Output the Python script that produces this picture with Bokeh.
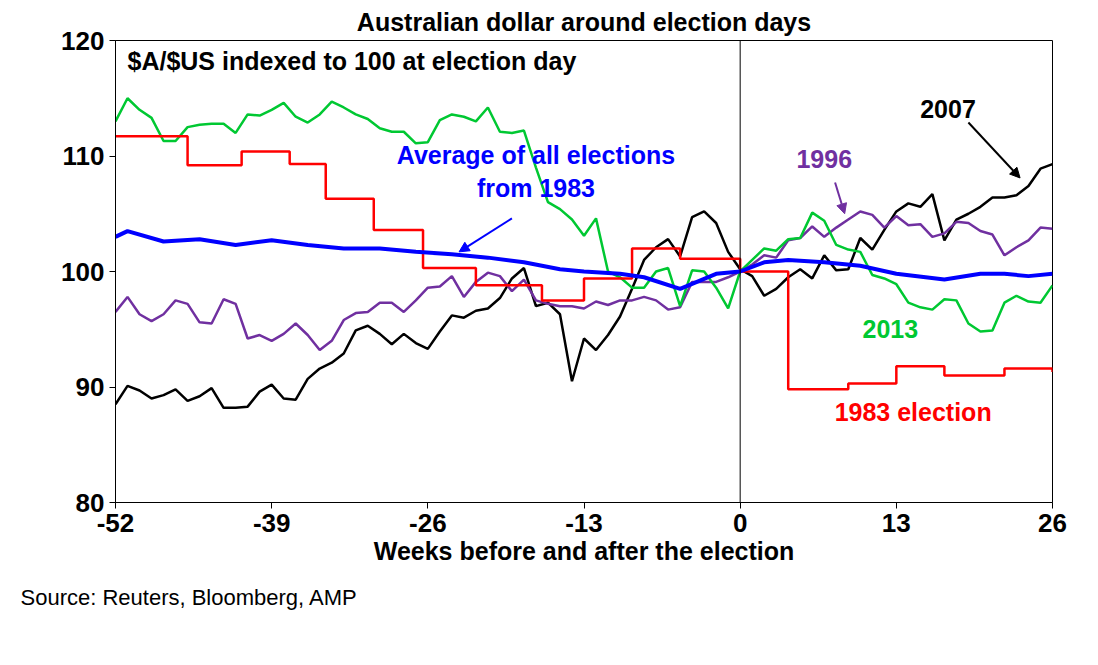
from bokeh.plotting import figure
from bokeh.models import Span, Label, Arrow, NormalHead, Title, FixedTicker
from bokeh.embed import file_html
from bokeh.resources import INLINE

weeks = list(range(-52, 27))
red_x = [-52,-46,-41.5,-37.5,-34.5,-30.5,-26.4,-22,-16.5,-13,-9,-5,0,4,9,13,17,22,26]
red_y = [111.7,109.2,110.4,109.3,106.3,103.6,100.3,98.8,97.5,99.4,102.0,101.1,100.0,89.8,90.3,91.8,91.0,91.6,91.3]
avg_x = [-52,-51,-48,-45,-42,-39,-36,-33,-30,-27,-24,-21,-18,-15,-13,-10,-8,-5,-2,0,2,4,7,10,13,17,20,22,24,26]
avg_y = [103.0,103.5,102.6,102.8,102.3,102.7,102.3,102.0,102.0,101.7,101.5,101.2,100.8,100.2,100.0,99.8,99.5,98.5,99.8,100.0,100.8,101.0,100.8,100.5,99.8,99.3,99.8,99.8,99.6,99.8]
y2013 = [113,115,114,113.3,111.3,111.3,112.5,112.7,112.8,112.8,112,113.6,113.5,114,114.6,113.4,112.9,113.6,114.7,114.2,113.6,113.2,112.4,112.1,112.1,111.1,111.2,113.1,113.6,113.4,113,114.2,112.1,112,112.2,109,106,105.4,104.5,103.1,104.6,100,99.5,98.6,98.6,100,100.3,97,100.1,100,98.6,96.8,100,101,102,101.8,102.8,102.9,105.1,104.4,102.3,101.9,101.7,99.7,99.4,98.9,97.3,96.9,96.7,97.6,97.5,95.5,94.8,94.9,97.3,97.9,97.4,97.3,98.8]
y1996 = [96.5,97.8,96.3,95.7,96.3,97.5,97.2,95.6,95.5,97.6,97.2,94.2,94.5,94,94.6,95.5,94.5,93.2,94,95.8,96.4,96.5,97.3,97.3,96.5,97.5,98.6,98.7,99.6,97.8,99.1,99.9,99.6,98.3,99.3,97.5,97.2,97,97,96.8,97.4,97.1,97.5,97.5,97.8,97.5,96.7,96.9,99.1,99.1,99.1,99.5,100,100.6,101.4,101.2,102.7,102.9,103.9,103,103.8,104.5,105.2,104.9,103.8,104.8,104,104.1,103,103.3,104.3,104.2,103.5,103.2,101.4,102.1,102.7,103.8,103.7]
y2007 = [88.5,90.1,89.7,89,89.3,89.8,88.8,89.2,89.9,88.2,88.2,88.3,89.6,90.2,89,88.9,90.7,91.6,92.1,92.9,94.9,95.3,94.6,93.7,94.6,93.8,93.3,94.8,96.2,96,96.6,96.8,97.7,99.4,100.3,97,97.3,96.3,90.5,94.2,93.2,94.5,96.1,98.5,101,102.1,102.8,101.3,104.7,105.2,104.2,101.7,100.2,99.6,97.9,98.5,99.5,100.2,99.4,101.4,100.1,100.2,102.9,101.9,103.6,105.2,105.9,105.6,106.7,102.7,104.5,105,105.6,106.4,106.4,106.6,107.4,108.9,109.3]
x_ticks = [-52,-39,-26,-13,0,13,26]
x_tick_labels = ["-52","-39","-26","-13","0","13","26"]
y_ticks = [80,90,100,110,120]

RED, BLUE, GREEN, PURPLE = "#FF0000", "#0000FF", "#00C832", "#7030A0"
F = "Liberation Sans"

p = figure(width=1082, height=649, x_range=(-52, 26), y_range=(80, 120),
           output_backend="svg", toolbar_location=None,
           min_border_left=115, min_border_right=30, min_border_top=12, min_border_bottom=147)
p.title.text = "Australian dollar around election days"
p.title.align = "center"
p.title.text_font = F
p.title.text_font_size = "25px"
p.title.text_font_style = "bold"
p.title.text_color = "black"
p.grid.visible = False
p.outline_line_color = "black"
p.outline_line_width = 1
for ax in (p.xaxis, p.yaxis):
    ax.axis_line_color = "black"
    ax.major_label_text_font = F
    ax.major_label_text_font_size = "26px"
    ax.major_label_text_font_style = "bold"
    ax.major_label_text_color = "black"
    ax.minor_tick_line_color = None
    ax.major_tick_in = 0
    ax.major_tick_out = 6
p.xaxis.ticker = FixedTicker(ticks=x_ticks)
p.xaxis.major_label_overrides = {t: s for t, s in zip(x_ticks, x_tick_labels)}
p.yaxis.ticker = FixedTicker(ticks=y_ticks)
p.xaxis.axis_label = "Weeks before and after the election"
p.xaxis.axis_label_text_font = F
p.xaxis.axis_label_text_font_size = "25px"
p.xaxis.axis_label_text_font_style = "bold"
p.xaxis.axis_label_text_color = "black"
p.xaxis.axis_label_standoff = 2

p.add_layout(Span(location=0, dimension="height", line_color="black", line_width=1))

p.line(weeks, y2007, color="black", line_width=2.5)
p.line(weeks, y1996, color=PURPLE, line_width=2.5)
p.line(weeks, y2013, color=GREEN, line_width=2.5)
p.step(red_x, red_y, mode="after", color=RED, line_width=2.5)
p.line(avg_x, avg_y, color=BLUE, line_width=4)

def lab(x, y, t, c, align="center"):
    p.add_layout(Label(x=x, y=y, text=t, text_color=c, text_font=F, text_font_size="25px",
                       text_font_style="bold", text_align=align, text_baseline="middle"))

lab(-51, 118.2, "$A/$US indexed to 100 at election day", "black", "left")
lab(-17, 110.1, "Average of all elections", BLUE)
lab(-17, 107.2, "from 1983", BLUE)
lab(17.3, 114.1, "2007", "black")
lab(7, 109.7, "1996", PURPLE)
lab(12.5, 95.0, "2013", GREEN)
lab(14.4, 87.8, "1983 election", RED)

def arr(x0, y0, x1, y1, c):
    p.add_layout(Arrow(x_start=x0, y_start=y0, x_end=x1, y_end=y1, line_color=c, line_width=2,
                       end=NormalHead(size=10, fill_color=c, line_color=c)))

arr(-19, 104.6, -23.4, 101.7, BLUE)
arr(19, 112.9, 23.3, 108.1, "black")
arr(7.9, 107.7, 8.7, 105.0, PURPLE)

p.add_layout(Title(text="Source: Reuters, Bloomberg, AMP", text_font=F, text_font_size="22px",
                   text_font_style="normal", text_color="black", align="left", offset=-95,
                   standoff=30), "below")

open("out.html", "w").write(file_html(p, INLINE))
